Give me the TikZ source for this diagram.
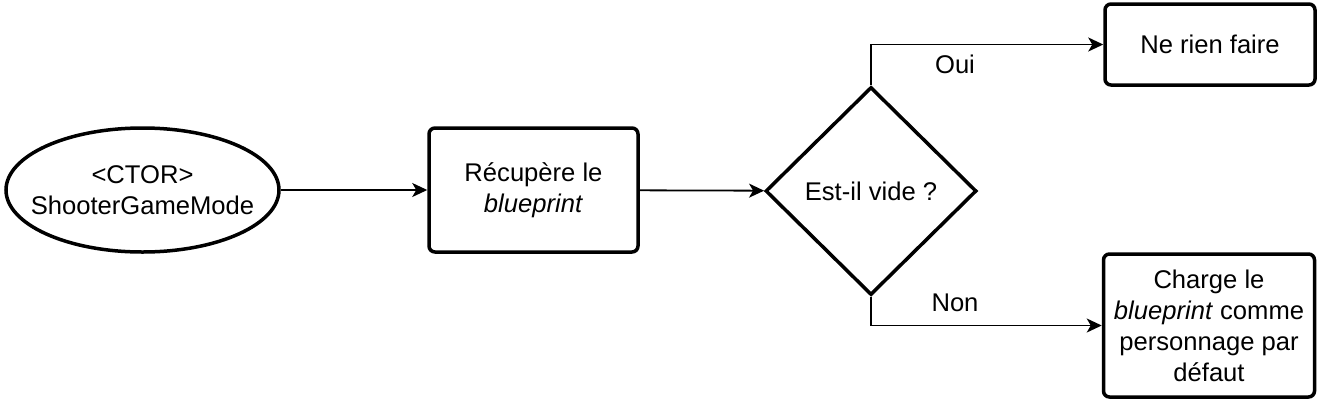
\documentclass[tikz,border=0pt]{standalone}
\usepackage{fontspec}
\setmainfont{Liberation Sans}
\usetikzlibrary{shapes.geometric,arrows.meta}
\definecolor{inkblack}{HTML}{000000}

\tikzset{
  shapeline/.style={draw=inkblack, line width=3.5pt, inner sep=0pt, align=center,
    font=\fontsize{25.6}{31}\selectfont},
  flowbox/.style={shapeline, rectangle, rounded corners=6pt},
  flowarrow/.style={draw=inkblack, line width=1.8pt,
    -{Stealth[length=15pt,width=14pt,inset=4pt]}},
  branchlabel/.style={font=\fontsize{25.6}{31}\selectfont, inner sep=0pt}
}

\begin{document}
\begin{tikzpicture}[x=1pt,y=-1pt]
\useasboundingbox (0,0) rectangle (1322,405);

% Start
\node[shapeline, ellipse, minimum width=273pt, minimum height=124pt,
  label={[align=center, font=\fontsize{25.6}{31}\selectfont]center:<CTOR>\\ShooterGameMode}] (ctor) at (142.5,190) {};

% Load
\node[flowbox, minimum width=209pt, minimum height=124pt] (recup) at (533.5,190) {Récupère le\\\textit{blueprint}};

% Test
\node[shapeline, diamond, minimum width=211pt, minimum height=208pt] (vide) at (871,191) {Est-il vide ?};

% Outcomes
\node[flowbox, minimum width=210pt, minimum height=81pt] (rien) at (1210,44.5) {Ne rien faire};
\node[flowbox, minimum width=211pt, minimum height=143pt] (charge) at (1209,325.5) {Charge le\\\textit{blueprint} comme\\personnage par\\défaut};

% Links
\draw[flowarrow] (ctor) -- (recup);
\draw[flowarrow] (recup) -- (vide);
\draw[flowarrow] (vide.north) |- (rien.west);
\draw[flowarrow] (vide.south) |- (charge.west);

\node[branchlabel] (oui) at (955,64) {Oui};
\node[branchlabel] (non) at (955,303) {Non};
\end{tikzpicture}
\end{document}
